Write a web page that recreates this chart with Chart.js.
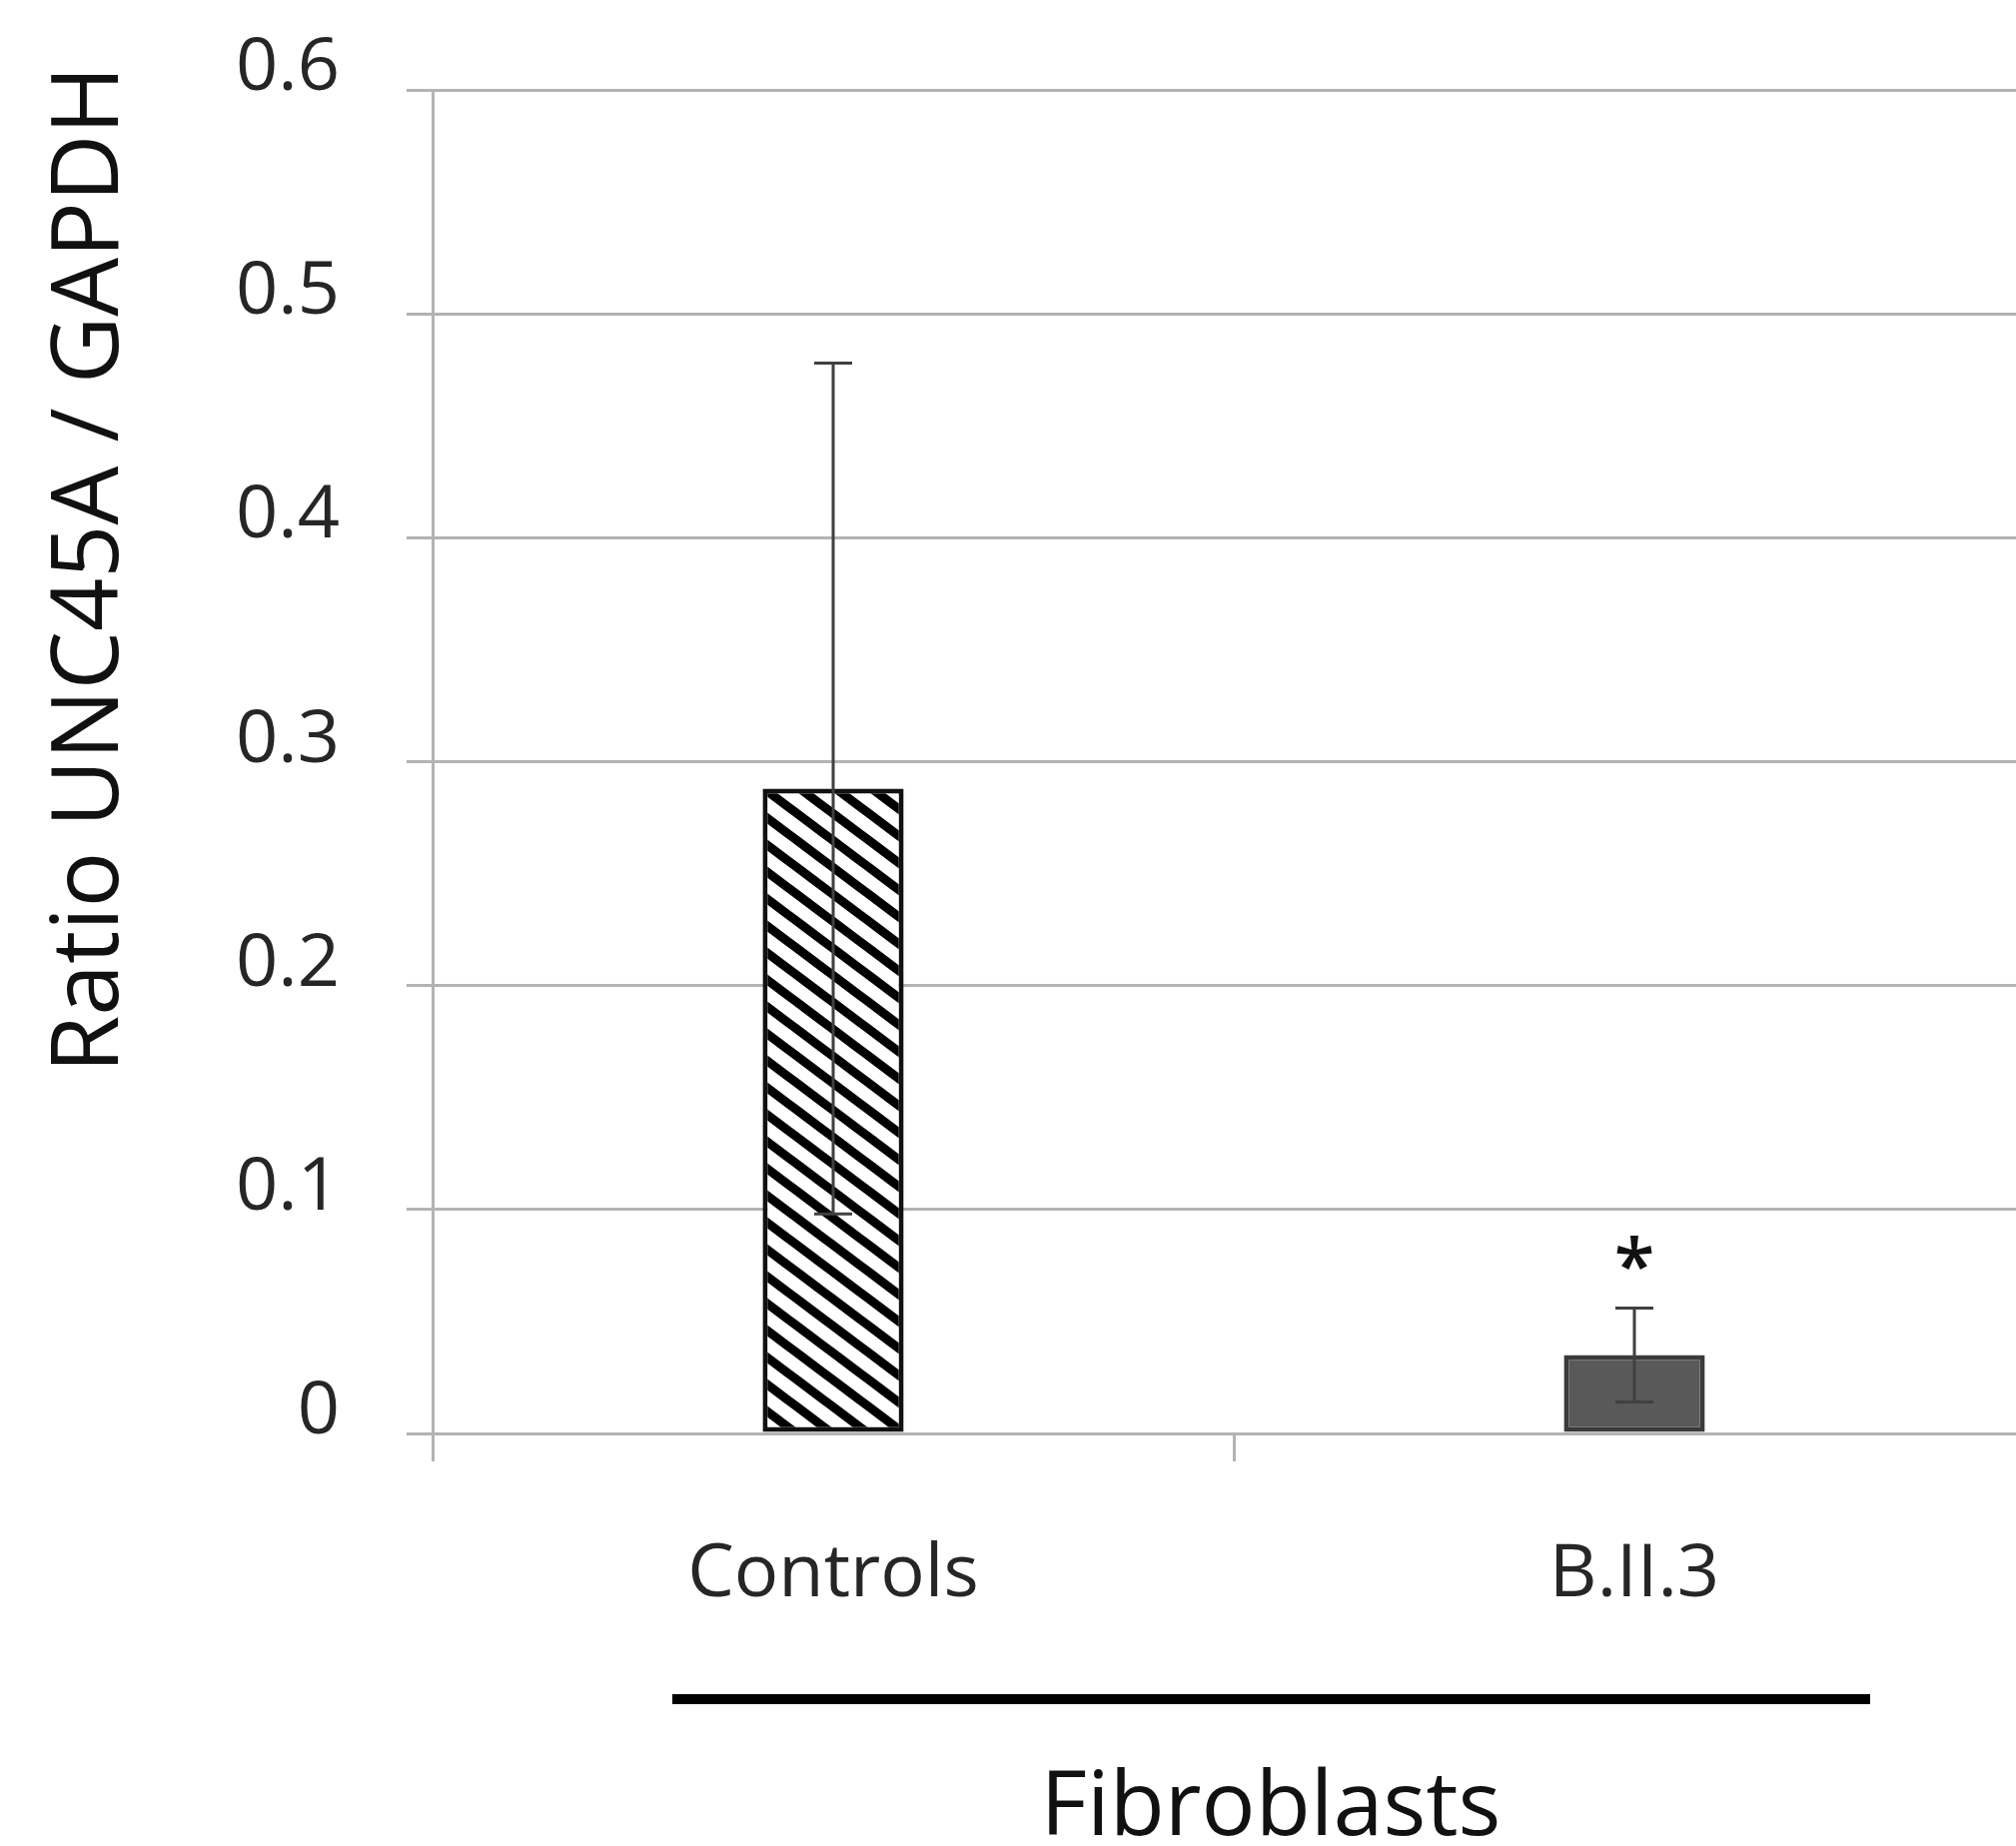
<!DOCTYPE html>
<html>
<head>
<meta charset="utf-8">
<script src="https://cdn.jsdelivr.net/npm/chart.js@4.4.1/dist/chart.umd.min.js"></script>
<style>
html, body { margin: 0; padding: 0; background: #fff; overflow: hidden; }
#wrap { width: 2045px; height: 1848px; position: relative; }
</style>
</head>
<body>
<div id="wrap"><canvas id="ratioChart"></canvas></div>
<script>
const categories = ['Controls', 'B.II.3'];
const ratioMeans = [0.288, 0.035];
const ratioErrors = [0.19, 0.021];
const significance = ['', '*'];
const yTickLabels = ['0', '0.1', '0.2', '0.3', '0.4', '0.5', '0.6'];
const yTitle = 'Ratio UNC45A / GAPDH';
const groupLabel = 'Fibroblasts';

const FONT = '"Open Sans", "Noto Sans", sans-serif';
const gridGray = '#b3b3b3';

// wide downward diagonal hatch, like the office pattern fill
function makeHatch() {
    const w = 36, h = 27;
    const c = document.createElement('canvas');
    c.width = w;
    c.height = h;
    const g = c.getContext('2d');
    g.fillStyle = '#fff';
    g.fillRect(0, 0, w, h);
    g.strokeStyle = '#000';
    g.lineWidth = 9;
    [-h, 0, h].forEach(dy => {
        g.beginPath();
        g.moveTo(-w, dy - h);
        g.lineTo(2 * w, dy + 2 * h);
        g.stroke();
    });
    return g.createPattern(c, 'repeat');
}

const errorBars = {
    id: 'errorBars',
    afterDatasetsDraw(chart) {
        const ctx = chart.ctx;
        const x = chart.scales.x;
        const y = chart.scales.y;
        ctx.save();
        ctx.strokeStyle = '#404040';
        ctx.lineWidth = 3;
        ratioMeans.forEach((m, i) => {
            const px = x.getPixelForValue(i);
            const top = y.getPixelForValue(m + ratioErrors[i]);
            const bot = y.getPixelForValue(m - ratioErrors[i]);
            ctx.beginPath();
            ctx.moveTo(px, top); ctx.lineTo(px, bot);
            ctx.moveTo(px - 19, top); ctx.lineTo(px + 19, top);
            ctx.moveTo(px - 19, bot); ctx.lineTo(px + 19, bot);
            ctx.stroke();

            if (significance[i]) {
                ctx.fillStyle = '#111';
                ctx.font = '600 74px ' + FONT;
                ctx.textAlign = 'center';
                ctx.textBaseline = 'alphabetic';
                const mt = ctx.measureText(significance[i]);
                const mid = (mt.actualBoundingBoxAscent - mt.actualBoundingBoxDescent) / 2;
                ctx.fillText(significance[i], px, top - 55 + mid);
            }
        });
        ctx.restore();
    }
};

const extraText = {
    id: 'extraText',
    afterDraw(chart) {
        const ctx = chart.ctx;
        ctx.save();
        ctx.fillStyle = '#111';

        // y axis title
        ctx.translate(118, 570);
        ctx.rotate(-Math.PI / 2);
        ctx.font = '93px ' + FONT;
        ctx.textAlign = 'center';
        ctx.textBaseline = 'alphabetic';
        ctx.fillText(yTitle, 0, 0);
        ctx.setTransform(1, 0, 0, 1, 0, 0);

        // group bracket line and label
        ctx.strokeStyle = '#000';
        ctx.lineWidth = 10;
        ctx.beginPath();
        ctx.moveTo(673, 1701);
        ctx.lineTo(1872, 1701);
        ctx.stroke();

        ctx.font = '90px ' + FONT;
        ctx.textAlign = 'center';
        ctx.fillText(groupLabel, 1272, 1837);
        ctx.restore();
    }
};

const ctx = document.getElementById('ratioChart').getContext('2d');
const ratioChart = new Chart(ctx, {
    type: 'bar',
    data: {
        labels: categories,
        datasets: [{
            data: ratioMeans,
            backgroundColor: [makeHatch(), '#595959'],
            borderColor: ['#111', '#3a3a3a'],
            borderWidth: 5,
            borderSkipped: false,
            barPercentage: 1,
            categoryPercentage: 0.176
        }]
    },
    options: {
        responsive: true,
        maintainAspectRatio: false,
        animation: false,
        layout: {
            padding: { top: 90, right: 8, bottom: 0, left: 0 }
        },
        plugins: {
            legend: { display: false },
            tooltip: { enabled: false }
        },
        scales: {
            y: {
                min: 0,
                max: 0.6,
                afterFit: (scale) => {
                    scale.width = 433;
                    scale.paddingTop = 0;
                    scale.paddingBottom = 0;
                },
                ticks: {
                    stepSize: 0.1,
                    padding: 67,
                    labelOffset: -21,
                    color: '#262626',
                    font: { family: FONT, size: 74 },
                    callback: (v, i) => yTickLabels[i]
                },
                grid: {
                    color: gridGray,
                    lineWidth: 3,
                    tickLength: 26
                },
                border: { color: gridGray, width: 3 }
            },
            x: {
                afterFit: (scale) => { scale.height = 1848 - 1435; },
                ticks: {
                    padding: 70,
                    color: '#262626',
                    font: { family: FONT, size: 74 }
                },
                grid: {
                    drawOnChartArea: false,
                    color: gridGray,
                    lineWidth: 3,
                    tickLength: 28
                },
                border: { color: gridGray, width: 3 }
            }
        }
    },
    plugins: [errorBars, extraText]
});
</script>
</body>
</html>
